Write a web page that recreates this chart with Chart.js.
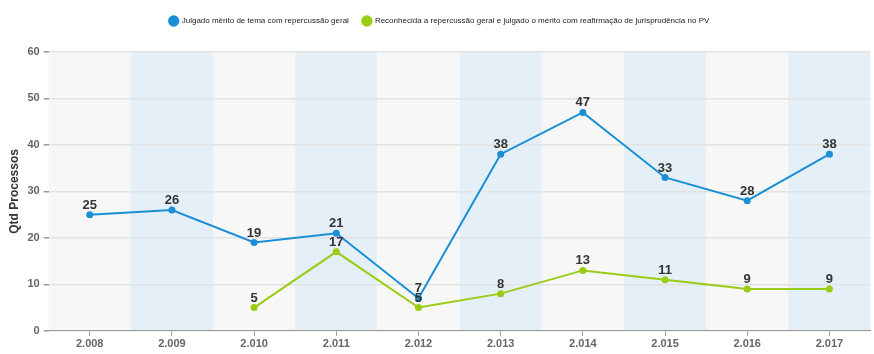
<!DOCTYPE html>
<html>
<head>
<meta charset="utf-8">
<script src="https://cdn.jsdelivr.net/npm/chart.js@4/dist/chart.umd.min.js"></script>
<style>
  html, body { margin: 0; padding: 0; background: #fff; }
  #wrap { width: 874px; height: 354px; }
</style>
</head>
<body>
<div id="wrap"><canvas id="chart" width="874" height="354"></canvas></div>
<script>
// categories and series
const years = ['2.008', '2.009', '2.010', '2.011', '2.012', '2.013', '2.014', '2.015', '2.016', '2.017'];
const julgadoMerito = [25, 26, 19, 21, 7, 38, 47, 33, 28, 38];
const reafirmacao = [null, null, 5, 17, 5, 8, 13, 11, 9, 9];
const yTicks = [0, 10, 20, 30, 40, 50, 60];

const blue = '#1a8fd5';
const green = '#99cc14';

// alternating column bands behind the plot
const bandsPlugin = {
    id: 'bands',
    beforeDraw(chart) {
        const { ctx, chartArea, scales } = chart;
        const x = scales.x;
        const step = x.getPixelForValue(1) - x.getPixelForValue(0);
        ctx.save();
        years.forEach((_, i) => {
            const cx = x.getPixelForValue(i);
            ctx.fillStyle = i % 2 === 0 ? '#f7f7f7' : '#e4eff7';
            ctx.fillRect(cx - step / 2, chartArea.top, step, chartArea.bottom - chartArea.top);
        });
        ctx.restore();
    }
};

// value labels above each point
const labelsPlugin = {
    id: 'valueLabels',
    afterDatasetsDraw(chart) {
        const ctx = chart.ctx;
        ctx.save();
        ctx.font = 'bold 13px "Liberation Sans", Arial, sans-serif';
        ctx.fillStyle = '#333';
        ctx.textAlign = 'center';
        ctx.textBaseline = 'bottom';
        chart.data.datasets.forEach((ds, di) => {
            chart.getDatasetMeta(di).data.forEach((pt, i) => {
                const v = ds.data[i];
                if (v === null || v === undefined) return;
                ctx.fillText(String(v), pt.x, pt.y - 3);
            });
        });
        ctx.restore();
    }
};

// extra room below the legend
const legendGap = {
    id: 'legendGap',
    beforeInit(chart) {
        const origFit = chart.legend.fit;
        chart.legend.fit = function () {
            origFit.call(this);
            this.height += 17;
        };
    }
};

new Chart(document.getElementById('chart'), {
    type: 'line',
    data: {
        labels: years,
        datasets: [
            {
                label: 'Julgado mérito de tema com repercussão geral',
                data: julgadoMerito,
                borderColor: blue,
                backgroundColor: blue,
                borderWidth: 2,
                pointRadius: 3.5,
                pointBorderWidth: 0,
                pointHoverRadius: 3.5,
                tension: 0
            },
            {
                label: 'Reconhecida a repercussão geral e julgado o mérito com reafirmação de jurisprudência no PV',
                data: reafirmacao,
                borderColor: green,
                backgroundColor: green,
                borderWidth: 2,
                pointRadius: 3.5,
                pointBorderWidth: 0,
                pointHoverRadius: 3.5,
                tension: 0
            }
        ]
    },
    options: {
        responsive: false,
        animation: false,
        layout: { padding: { top: 3, right: 2, left: 7, bottom: 1 } },
        plugins: {
            legend: {
                position: 'top',
                labels: {
                    usePointStyle: true,
                    pointStyle: 'circle',
                    boxWidth: 8,
                    boxHeight: 8,
                    padding: 14,
                    color: '#222',
                    font: { family: '"Liberation Sans", Arial, sans-serif', size: 8 }
                }
            },
            tooltip: { enabled: false }
        },
        scales: {
            x: {
                offset: true,
                grid: {
                    offset: false,
                    drawOnChartArea: false,
                    drawTicks: true,
                    tickLength: 5,
                    color: '#999'
                },
                border: { display: true, color: '#999', width: 1 },
                ticks: {
                    color: '#666',
                    font: { family: '"Liberation Sans", Arial, sans-serif', size: 11, weight: 'bold' },
                    padding: 2
                }
            },
            y: {
                min: 0,
                max: 60,
                afterBuildTicks(scale) {
                    scale.ticks = yTicks.map(v => ({ value: v }));
                },
                grid: {
                    color: '#e3e3e3',
                    lineWidth: 1.5,
                    drawTicks: true,
                    tickLength: 5,
                    tickColor: '#999'
                },
                border: { display: false },
                ticks: {
                    color: '#666',
                    font: { family: '"Liberation Sans", Arial, sans-serif', size: 11, weight: 'bold' },
                    padding: 4
                },
                title: {
                    display: true,
                    text: 'Qtd Processos',
                    color: '#333',
                    font: { family: '"Liberation Sans", Arial, sans-serif', size: 12, weight: 'bold' },
                    padding: { top: 0, bottom: 2 }
                }
            }
        }
    },
    plugins: [bandsPlugin, labelsPlugin, legendGap]
});
</script>
</body>
</html>
